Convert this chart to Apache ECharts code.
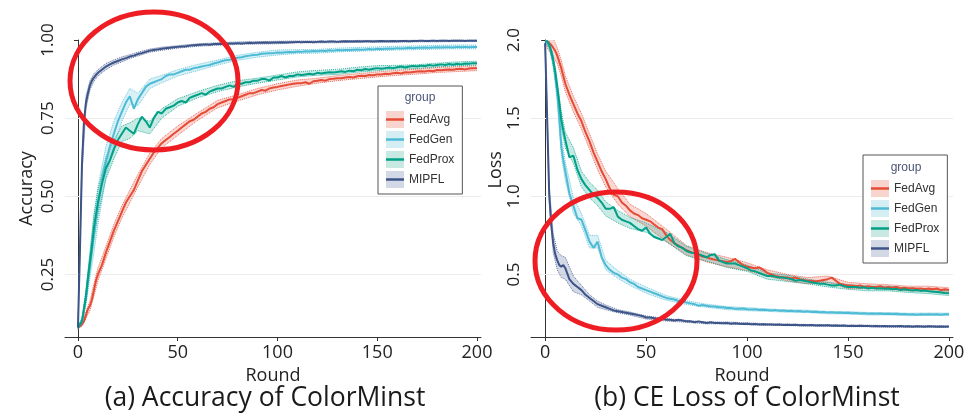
<!DOCTYPE html>
<html>
<head>
<meta charset="utf-8">
<script src="https://cdn.jsdelivr.net/npm/echarts@6/dist/echarts.min.js"></script>
<style>html,body{margin:0;padding:0;background:#fff}#c{width:969px;height:416px}</style>
</head>
<body>
<div id="c"></div>
<script>
// ---------- data ----------
const methods = ['FedAvg', 'FedGen', 'FedProx', 'MIPFL'];
// rounds sampled: 0..10 every round, then every 2 rounds up to 200
const rounds = [];
for (let i = 0; i <= 10; i++) rounds.push(i);
for (let r = 12; r <= 200; r += 2) rounds.push(r);

const roundTicks = [0, 50, 100, 150, 200];
const accTicks = [0.25, 0.50, 0.75, 1.00];
const lossTicks = [0.5, 1.0, 1.5, 2.0];

const accFedAvg = [.08,.085,.09,.10,.12,.14,.15,.17,.20,.23,.25,
 .28,.32,.355,.39,.42,.45,.48,.50,.52,.55,
 .58,.60,.62,.64,.655,.67,.68,.69,.70,.71,
 .72,.73,.74,.745,.755,.765,.77,.78,.785,.795,
 .80,.805,.81,.81,.815,.82,.825,.83,.83,.835,
 .84,.838,.845,.848,.85,.853,.855,.858,.86,.862,
 .862,.865,.86,.868,.87,.872,.87,.875,.876,.878,
 .878,.88,.882,.88,.884,.886,.885,.888,.887,.89,
 .89,.892,.891,.894,.895,.893,.897,.896,.898,.899,
 .90,.899,.902,.90,.904,.903,.905,.906,.905,.907,
 .908,.906,.909,.91,.91];
const accFedGen = [.08,.085,.10,.135,.175,.23,.28,.33,.38,.43,.47,
 .55,.61,.66,.70,.74,.77,.80,.82,.78,.81,
 .83,.85,.86,.865,.87,.875,.885,.89,.89,.895,
 .90,.905,.905,.91,.912,.915,.918,.92,.925,.928,
 .932,.935,.937,.94,.943,.945,.948,.95,.952,.953,
 .956,.957,.958,.958,.96,.959,.961,.962,.961,.963,
 .962,.964,.963,.965,.964,.966,.965,.967,.966,.968,
 .967,.968,.968,.969,.970,.969,.970,.971,.970,.972,
 .971,.972,.973,.972,.974,.973,.974,.975,.974,.975,
 .975,.976,.975,.976,.977,.976,.977,.977,.976,.978,
 .977,.978,.977,.978,.978];
const accFedProx = [.08,.085,.10,.14,.18,.24,.29,.34,.40,.44,.48,
 .54,.59,.615,.65,.68,.70,.72,.71,.70,.73,
 .755,.74,.72,.75,.77,.765,.78,.785,.79,.80,
 .805,.80,.815,.82,.825,.83,.825,.835,.84,.845,
 .845,.85,.855,.85,.86,.86,.865,.865,.87,.87,
 .875,.875,.87,.88,.88,.885,.88,.885,.885,.89,
 .888,.89,.892,.89,.895,.893,.895,.897,.896,.898,
 .90,.898,.902,.90,.905,.903,.907,.905,.908,.91,
 .908,.91,.912,.91,.913,.915,.912,.915,.917,.915,
 .918,.917,.92,.918,.92,.922,.92,.923,.921,.924,
 .922,.925,.924,.926,.926];
const accMIPFL = [.08,.33,.60,.74,.80,.83,.855,.87,.88,.888,.895,
 .905,.915,.922,.928,.933,.938,.942,.947,.950,.955,
 .958,.962,.966,.968,.970,.972,.974,.975,.977,.978,
 .979,.980,.982,.983,.984,.985,.986,.985,.987,.987,
 .988,.987,.989,.989,.990,.989,.990,.991,.990,.991,
 .991,.992,.991,.992,.992,.993,.992,.993,.993,.994,
 .993,.994,.994,.993,.994,.995,.994,.995,.995,.994,
 .995,.996,.995,.995,.996,.995,.996,.996,.995,.996,
 .997,.996,.996,.997,.996,.997,.997,.996,.997,.997,
 .998,.997,.997,.998,.997,.998,.998,.997,.998,.998,
 .998,.997,.998,.998,.998];

const lossFedAvg = [1.99,1.99,1.98,1.97,1.95,1.93,1.90,1.86,1.82,1.77,1.72,
 1.65,1.59,1.53,1.48,1.41,1.35,1.28,1.22,1.16,1.11,
 1.05,1.01,1.00,.96,.94,.91,.89,.88,.86,.85,
 .84,.82,.80,.79,.75,.72,.70,.685,.67,.655,
 .645,.635,.625,.615,.61,.60,.595,.59,.585,.58,
 .585,.60,.58,.56,.55,.545,.54,.545,.53,.51,
 .50,.49,.485,.48,.48,.475,.48,.47,.465,.46,
 .46,.455,.46,.465,.47,.48,.46,.44,.435,.43,
 .43,.425,.43,.42,.425,.42,.42,.425,.415,.42,
 .415,.42,.41,.415,.41,.412,.408,.41,.405,.41,
 .405,.41,.40,.405,.40];
const lossFedGen = [1.99,1.99,1.97,1.93,1.86,1.77,1.66,1.50,1.32,1.23,1.16,
 1.02,.94,.86,.85,.78,.71,.67,.71,.61,.56,
 .53,.51,.50,.48,.47,.45,.44,.42,.41,.40,
 .39,.38,.37,.36,.35,.345,.34,.33,.33,.32,
 .315,.31,.30,.305,.30,.295,.295,.29,.29,.285,
 .285,.28,.28,.283,.278,.276,.278,.273,.275,.272,
 .27,.272,.268,.27,.266,.268,.264,.266,.262,.264,
 .26,.262,.258,.26,.256,.258,.255,.256,.253,.255,
 .252,.254,.25,.252,.249,.251,.248,.25,.247,.249,
 .247,.248,.245,.247,.244,.246,.243,.245,.244,.246,
 .244,.245,.243,.246,.245];
const lossFedProx = [1.99,1.99,1.97,1.93,1.87,1.80,1.70,1.60,1.49,1.42,1.36,
 1.25,1.26,1.17,1.11,1.07,1.04,1.01,.99,.96,.92,
 .92,.93,.87,.85,.84,.83,.81,.79,.78,.80,
 .76,.74,.73,.72,.74,.76,.70,.68,.67,.65,
 .64,.635,.63,.62,.61,.625,.63,.59,.58,.57,
 .57,.57,.56,.55,.54,.525,.52,.51,.50,.49,
 .49,.485,.48,.48,.475,.47,.46,.465,.46,.455,
 .45,.445,.44,.44,.435,.43,.43,.435,.425,.42,
 .42,.42,.415,.418,.41,.415,.41,.412,.408,.41,
 .405,.408,.40,.405,.40,.398,.40,.395,.398,.392,
 .39,.388,.385,.382,.38];
const lossMIPFL = [1.98,1.50,1.02,.82,.70,.63,.59,.56,.55,.56,.54,
 .47,.44,.42,.40,.37,.35,.33,.31,.30,.29,
 .28,.27,.265,.26,.255,.25,.245,.24,.235,.225,
 .225,.22,.215,.22,.21,.21,.205,.21,.205,.20,
 .20,.195,.20,.195,.19,.195,.19,.19,.188,.19,
 .185,.188,.185,.183,.185,.182,.183,.18,.182,.18,
 .18,.178,.18,.177,.178,.176,.178,.175,.177,.175,
 .176,.174,.175,.173,.175,.172,.174,.172,.173,.171,
 .172,.17,.172,.17,.171,.169,.17,.168,.17,.168,
 .169,.168,.17,.167,.168,.166,.168,.167,.166,.168,
 .167,.166,.167,.166,.167];

// confidence band half-widths at coarser rounds
const bandRounds = [0,2,4,6,8,10,14,18,22,26,30,36,42,50,60,70,80,90,100,110,120,130,140,150,160,170,180,190,200];
const accSpreadFedAvg  = [.005,.005,.01,.015,.02,.02,.02,.02,.02,.02,.02,.018,.015,.015,.012,.012,.01,.01,.01,.01,.008,.008,.008,.008,.008,.008,.008,.008,.008];
const accSpreadFedGen  = [.005,.01,.02,.04,.06,.06,.05,.04,.03,.025,.02,.015,.012,.01,.01,.008,.008,.008,.008,.006,.006,.006,.006,.006,.006,.006,.006,.006,.006];
const accSpreadFedProx = [.005,.01,.02,.03,.04,.04,.035,.03,.025,.025,.02,.02,.015,.012,.01,.01,.01,.008,.008,.008,.008,.008,.008,.008,.006,.006,.006,.006,.006];
const accSpreadMIPFL   = [.005,.03,.02,.015,.012,.01,.01,.008,.008,.006,.006,.005,.005,.004,.004,.004,.004,.004,.004,.003,.003,.003,.003,.003,.003,.003,.003,.003,.003];
const lossSpreadFedAvg  = [.02,.05,.06,.05,.05,.05,.05,.05,.05,.05,.05,.05,.04,.04,.04,.03,.03,.03,.025,.02,.02,.02,.02,.02,.015,.015,.015,.015,.015];
const lossSpreadFedGen  = [.01,.02,.03,.05,.06,.06,.05,.04,.04,.04,.03,.025,.02,.02,.015,.012,.01,.01,.01,.008,.008,.008,.008,.008,.008,.008,.008,.008,.008];
const lossSpreadFedProx = [.01,.02,.03,.04,.05,.05,.05,.05,.05,.05,.045,.04,.035,.03,.03,.03,.025,.025,.02,.02,.02,.015,.015,.015,.015,.015,.015,.015,.015];
const lossSpreadMIPFL   = [.01,.05,.06,.06,.07,.07,.05,.03,.02,.02,.015,.01,.01,.01,.008,.006,.006,.006,.006,.005,.005,.005,.005,.005,.005,.005,.005,.005,.005];

// ---------- style ----------
const COLORS = {FedAvg:'#E64B35', FedGen:'#4DBBD5', FedProx:'#00A087', MIPFL:'#3C5488'};
const BAND = {FedAvg:'rgba(230,75,53,0.22)', FedGen:'rgba(77,187,213,0.22)', FedProx:'rgba(0,160,135,0.22)', MIPFL:'rgba(60,84,136,0.22)'};
const KEY = {FedAvg:'#F8D4CE', FedGen:'#D5EEF4', FedProx:'#C7E9E2', MIPFL:'#D3D8E6'};
const FONT = "'Open Sans', 'Noto Sans', sans-serif";

const accData = {FedAvg:accFedAvg, FedGen:accFedGen, FedProx:accFedProx, MIPFL:accMIPFL};
const lossData = {FedAvg:lossFedAvg, FedGen:lossFedGen, FedProx:lossFedProx, MIPFL:lossMIPFL};
const accSpread = {FedAvg:accSpreadFedAvg, FedGen:accSpreadFedGen, FedProx:accSpreadFedProx, MIPFL:accSpreadMIPFL};
const lossSpread = {FedAvg:lossSpreadFedAvg, FedGen:lossSpreadFedGen, FedProx:lossSpreadFedProx, MIPFL:lossSpreadMIPFL};

[accData, lossData].forEach(d => methods.forEach(m => {
  if (d[m].length !== rounds.length) throw new Error('length ' + m + ' ' + d[m].length + ' vs ' + rounds.length);
}));
[accSpread, lossSpread].forEach(d => methods.forEach(m => {
  if (d[m].length !== bandRounds.length) throw new Error('spread ' + m + ' ' + d[m].length);
}));

function buildSeries(g, dataMap, spreadMap, ticks) {
  const out = [];
  methods.forEach((m, k) => {
    const vals = dataMap[m], sp = spreadMap[m], c = COLORS[m];
    const lower = bandRounds.map((r, j) => [r, vals[rounds.indexOf(r)] - sp[j]]);
    const upper = bandRounds.map((r, j) => [r, vals[rounds.indexOf(r)] + sp[j]]);
    // shaded ribbon polygon, positioned through the axes' scales
    out.push({
      type:'custom', xAxisIndex:g, yAxisIndex:g, silent:true, z:1,
      data: bandRounds.map((r, j) => [r, lower[j][1], upper[j][1]]),
      encode:{x:0, y:[1, 2]},
      renderItem: (params, api) => {
        if (params.dataIndex !== 0) return null;
        const pts = upper.map(p => api.coord(p)).concat(lower.slice().reverse().map(p => api.coord(p)));
        return {type:'polygon', shape:{points: echarts.graphic.clipPointsByRect(pts, params.coordSys)},
          style:{fill:BAND[m], stroke:null}};
      }
    });
    const lo = {
      type:'line', name:m + ' lower', xAxisIndex:g, yAxisIndex:g,
      data:lower, symbol:'none', silent:true, z:2,
      lineStyle:{type:'dotted', width:1, color:c, opacity:0.8}
    };
    if (k === 0) {
      lo.markLine = {silent:true, symbol:'none', label:{show:false}, z:1,
        lineStyle:{color:'#ECECEC', width:1, type:'solid'},
        emphasis:{disabled:true},
        data: ticks.map(v => ({yAxis:v}))};
    }
    out.push(lo);
    out.push({
      type:'line', name:m + ' upper', xAxisIndex:g, yAxisIndex:g,
      data:upper, symbol:'none', silent:true, z:2,
      lineStyle:{type:'dotted', width:1, color:c, opacity:0.8}
    });
  });
  methods.forEach(m => {
    out.push({
      type:'line', name:m, xAxisIndex:g, yAxisIndex:g,
      data: rounds.map((r, i) => [r, dataMap[m][i]]),
      symbol:'none', z:3, itemStyle:{color:COLORS[m]},
      lineStyle:{width:2, color:COLORS[m]}
    });
  });
  return out;
}

function legendPair(left, top) {
  const base = {left, top, orient:'vertical', itemWidth:18, itemHeight:17, itemGap:3,
    padding:[25, 8, 6, 8], selectedMode:false, itemStyle:{borderWidth:0}};
  return [
    Object.assign({}, base, {borderColor:'#555', borderWidth:1, backgroundColor:'#fff', icon:'rect', z:20,
      textStyle:{fontSize:12, color:'#333', fontFamily:'Liberation Sans'},
      data: methods.map(m => ({name:m, itemStyle:{color:KEY[m], borderWidth:0}}))}),
    Object.assign({}, base, {borderWidth:0, z:21,
      icon:'path://M0,0L0.01,0Z M18,17L17.99,17Z M0,7.2H18V9.8H0Z',
      textStyle:{fontSize:12, color:'rgba(0,0,0,0)', fontFamily:'Liberation Sans'},
      data: methods.map(m => ({name:m, itemStyle:{color:COLORS[m], borderWidth:0}}))})
  ];
}

const axisCommon = {
  axisLine:{show:true, lineStyle:{color:'#333', width:1}},
  splitLine:{show:false}
};

const option = {
  animation:false,
  backgroundColor:'#fff',
  grid:[
    {left:65, right:488, top:40, bottom:79},
    {left:531, right:16, top:40, bottom:79}
  ],
  xAxis:[
    Object.assign({}, axisCommon, {gridIndex:0, type:'value', min:-6.5, max:202,
      name:'Round', nameLocation:'middle', nameGap:24,
      nameTextStyle:{fontSize:18, color:'#222', fontFamily:FONT},
      axisTick:{show:true, length:4, customValues:roundTicks, lineStyle:{color:'#333'}},
      axisLabel:{customValues:roundTicks, fontSize:18, color:'#222', margin:7, fontFamily:FONT}}),
    Object.assign({}, axisCommon, {gridIndex:1, type:'value', min:-7, max:202,
      name:'Round', nameLocation:'middle', nameGap:24,
      nameTextStyle:{fontSize:18, color:'#222', fontFamily:FONT},
      axisTick:{show:true, length:4, customValues:roundTicks, lineStyle:{color:'#333'}},
      axisLabel:{customValues:roundTicks, fontSize:18, color:'#222', margin:7, fontFamily:FONT}})
  ],
  yAxis:[
    Object.assign({}, axisCommon, {gridIndex:0, type:'value', min:0.05, max:1.0,
      name:'Accuracy', nameLocation:'middle', nameGap:29,
      nameTextStyle:{fontSize:18, color:'#222', fontFamily:FONT},
      axisTick:{show:true, length:4, customValues:accTicks, lineStyle:{color:'#333'}},
      axisLabel:{customValues:accTicks, rotate:90, fontSize:17, color:'#222', margin:8, fontFamily:FONT,
        formatter: v => Number(v).toFixed(2)}}),
    Object.assign({}, axisCommon, {gridIndex:1, type:'value', min:0.1, max:2.0,
      name:'Loss', nameLocation:'middle', nameGap:21,
      nameTextStyle:{fontSize:18, color:'#222', fontFamily:FONT, align:'left'},
      axisTick:{show:true, length:4, customValues:lossTicks, lineStyle:{color:'#333'}},
      axisLabel:{customValues:lossTicks, rotate:90, fontSize:17, color:'#222', margin:8, fontFamily:FONT,
        formatter: v => Number(v).toFixed(1)}})
  ],
  legend: legendPair(378, 86).concat(legendPair(863, 155)),
  series: buildSeries(0, accData, accSpread, [0.25, 0.5, 0.75]).concat(buildSeries(1, lossData, lossSpread, [0.5, 1.0, 1.5])),
  graphic:[
    {type:'text', x:420, y:98, z:30, style:{text:'group', fill:'#4B5475', fontSize:12, fontFamily:'Liberation Sans', align:'center', verticalAlign:'middle'}},
    {type:'text', x:906, y:168, z:30, style:{text:'group', fill:'#4B5475', fontSize:12, fontFamily:'Liberation Sans', align:'center', verticalAlign:'middle'}},
    {type:'text', x:265, y:398, z:30, style:{text:'(a) Accuracy of ColorMinst', fill:'#1a1a1a', fontSize:26.5, fontFamily:FONT, align:'center', verticalAlign:'middle'}},
    {type:'text', x:747, y:398, z:30, style:{text:'(b) CE Loss of ColorMinst', fill:'#1a1a1a', fontSize:26.5, fontFamily:FONT, align:'center', verticalAlign:'middle'}},
    {type:'ellipse', z:100, shape:{cx:154, cy:81, rx:84, ry:69}, style:{fill:'none', stroke:'#EE1D23', lineWidth:5}},
    {type:'ellipse', z:100, shape:{cx:616, cy:261, rx:81, ry:69}, style:{fill:'none', stroke:'#EE1D23', lineWidth:5}}
  ]
};

const chart = echarts.init(document.getElementById('c'), null, {renderer:'canvas'});
chart.setOption(option);
</script>
</body>
</html>
